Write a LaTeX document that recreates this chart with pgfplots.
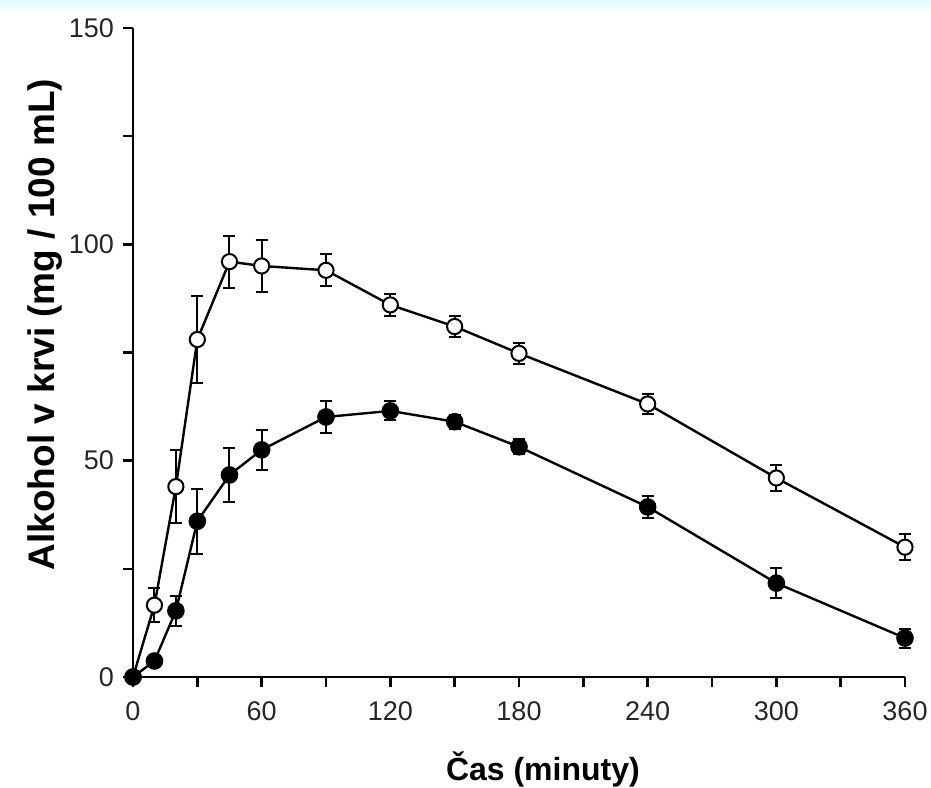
\documentclass[border=0pt]{standalone}
\usepackage{fontspec}
\setmainfont{Liberation Sans}
\usepackage{pgfplots}
\pgfplotsset{compat=1.18}

% open circles: time, mean, error
\pgfplotstableread{
t   y     e
0   0     0
10  16.6  4
20  44    8.5
30  78    10
45  96    6
60  95    6
90  94    3.7
120 86    2.6
150 81    2.4
180 74.8  2.5
240 63.1  2.4
300 46    3
360 30    3
}\openseries

% filled circles
\pgfplotstableread{
t   y     e
0   0     0
10  3.7   0.8
20  15.3  3.5
30  36    7.5
45  46.7  6.3
60  52.5  4.6
90  60.1  3.8
120 61.5  2.2
150 59    1.6
180 53.2  1.7
240 39.3  2.6
300 21.7  3.5
360 9     2.2
}\filledseries

\begin{document}
\begin{tikzpicture}
  \path[use as bounding box] (-66.5pt,-55pt) rectangle (399pt,338.5pt);
  \shade[top color=blue!18!cyan!12, bottom color=white] (-66.5pt,332pt) rectangle (399pt,338.5pt);
  \begin{axis}[
      scale only axis, width=386pt, height=324.5pt,
      at={(0,0)}, anchor=south west,
      xmin=0, xmax=360, ymin=0, ymax=150,
      axis lines*=left,
      axis line style={line width=1.4pt},
      xtick={0,60,...,360}, minor xtick={30,90,...,330},
      ytick={0,50,100,150}, minor ytick={25,75,125},
      tick align=outside, tick style={line width=1.2pt, black},
      major tick length=5pt, minor tick length=5pt,
      /pgf/number format/assume math mode=true,
      tick label style={font=\fontsize{13.5}{15}\selectfont, text=black!85},
      xticklabel style={yshift=-4pt},
      yticklabel style={xshift=-1pt},
      xlabel={\textbf{Čas (minuty)}},
      ylabel={\textbf{Alkohol v krvi (mg / 100 mL)}},
      xlabel style={font=\fontsize{16}{18}\selectfont, at={(axis description cs:0.531,-0.142)}, anchor=center},
      ylabel style={font=\fontsize{18.5}{20}\selectfont, at={(axis description cs:-0.114,0.543)}, anchor=center},
      clip=false,
    ]
    \addplot[black, line width=1.2pt, mark=*, mark size=3.8pt,
      mark options={fill=white, line width=1pt},
      error bars/.cd, y dir=both, y explicit,
      error bar style={line width=1pt, black},
      error mark options={rotate=90, mark size=3pt, line width=1pt}]
      table[x=t, y=y, y error=e] {\openseries};
    \addplot[black, line width=1.2pt, mark=*, mark size=3.8pt,
      mark options={fill=black},
      error bars/.cd, y dir=both, y explicit,
      error bar style={line width=1pt, black},
      error mark options={rotate=90, mark size=3pt, line width=1pt}]
      table[x=t, y=y, y error=e] {\filledseries};
  \end{axis}
\end{tikzpicture}
\end{document}
